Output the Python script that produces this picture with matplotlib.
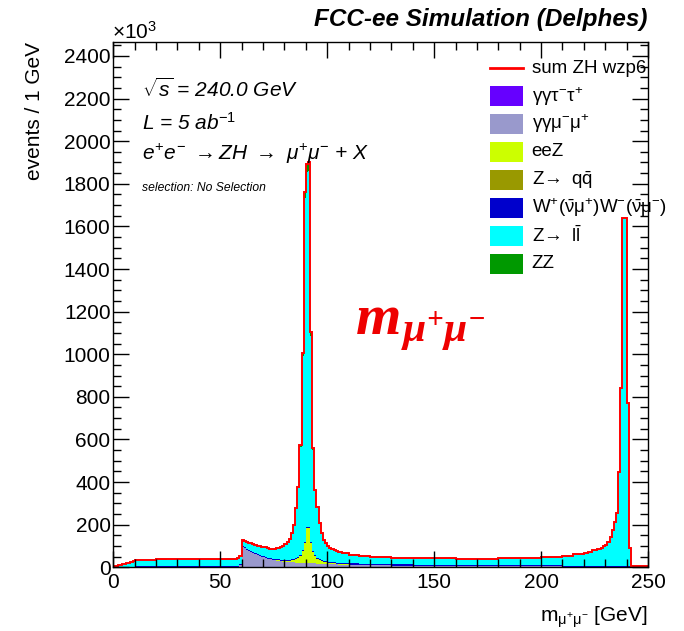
import matplotlib
matplotlib.use("Agg")
import matplotlib.pyplot as plt
from matplotlib.patches import Rectangle
from matplotlib.lines import Line2D
from matplotlib.ticker import MultipleLocator

plt.rcParams['font.family'] = ['Liberation Sans', 'DejaVu Sans']
plt.rcParams['mathtext.fontset'] = 'custom'
plt.rcParams['mathtext.rm'] = 'Liberation Sans'
plt.rcParams['mathtext.it'] = 'Liberation Sans:italic'
plt.rcParams['mathtext.bf'] = 'Liberation Serif:bold:italic'

# ---------------- data (events per 1 GeV, in units of 10^3) ----------------
edges = [0, 1, 2, 4, 6, 8, 9, 10, 15, 20, 25, 30, 35, 40, 45, 50, 55, 57, 58, 59,
         60, 61, 62, 63, 64, 65, 66, 67, 68, 69, 70, 71, 72, 73, 74, 75, 76, 77, 78, 79,
         80, 81, 82, 83, 84, 85, 86, 87, 88, 89, 90, 91, 92, 93, 94, 95, 96, 97, 98, 99,
         100, 101, 102, 103, 104, 105, 107, 110, 115, 120, 130, 140, 150, 160, 170, 180,
         190, 200, 205, 210, 215, 220, 222, 224, 226, 228, 229, 230, 231, 232, 233, 234,
         235, 236, 237, 238, 239, 240, 241, 242, 243, 244, 245, 250]

# gamma gamma -> tau tau (negligible at this scale)
gg_tautau = [0] * (len(edges) - 1)

gg_mumu = [0, 0, 0, 0, 0, 0, 0, 0, 0, 0, 0, 0, 0, 0, 0, 0, 0, 0, 3, 12,
           95, 89, 83, 77, 72, 67, 62, 58, 54, 50,
           46, 43, 40, 37, 35, 33, 31, 30, 28, 27,
           26, 25, 24, 23, 23, 22, 22, 21, 21, 20,
           20, 19, 19, 18, 18, 17, 17, 16, 16, 16,
           15, 15, 14, 14, 14,
           13, 12, 11, 10,
           9, 8, 7, 6, 6, 5, 5, 4,
           4, 4, 3, 3,
           3, 3, 3, 3,
           3, 3,
           2, 2, 2, 2, 2, 2, 2, 2, 2, 2, 2, 2, 1, 1, 1,
           1]

eeZ = [0, 0, 0, 0, 0, 0, 0, 0, 0, 0, 0, 0, 0, 0, 0, 0, 0, 0, 0, 0,
       0, 0, 0, 0, 0, 0, 0, 0, 0, 0,
       0, 0, 0, 0, 0, 0, 1, 2, 3, 4,
       5, 6, 7, 9, 11, 15, 21, 33, 55, 95,
       165, 165, 95, 55, 33, 23, 16, 12, 9, 7,
       6, 5, 4, 4, 3,
       3, 2, 1, 1,
       0, 0, 0, 0, 0, 0, 0, 0,
       0, 0, 0, 0,
       0, 0, 0, 0,
       0, 0,
       0, 0, 0, 0, 0, 0, 0, 0, 0, 0, 0, 0, 0, 0, 0,
       0]

# Z -> q qbar (negligible at this scale)
z_qq = [0] * (len(edges) - 1)

ww = [1, 2, 3, 3, 3, 3, 3, 4, 4, 4, 4, 4, 4, 4, 4, 4, 4, 4, 4, 4,
      5, 5, 5, 5, 5, 5, 5, 5, 5, 5,
      5, 5, 5, 5, 5, 5, 5, 5, 5, 5,
      5, 5, 5, 5, 5, 5, 5, 5, 5, 5,
      5, 5, 5, 5, 5, 5, 5, 5, 5, 5,
      5, 5, 5, 5, 5,
      6, 6, 6, 6,
      6, 6, 6, 6, 6, 6, 6, 6,
      5, 5, 5, 5,
      4, 4, 4, 4,
      4, 4,
      3, 3, 3, 3, 3, 3, 3, 3, 3, 3, 3, 3, 1, 1, 1,
      1]

z_ll = [2, 6, 10, 13, 15, 21, 26, 28, 30, 32, 33, 34, 34, 33, 32, 32, 32, 33, 34, 38,
        27, 29, 31, 33, 34, 35, 36, 37, 39, 41,
        43, 44, 44, 45, 47, 49, 51, 53, 57, 61,
        71, 81, 97, 121, 158, 231, 324, 506, 909, 1613,
        1665, 1671, 965, 471, 301, 236, 166, 125, 97, 83,
        73, 66, 61, 56, 52,
        47, 44, 40, 35,
        32, 30, 29, 29, 28, 29, 30, 32,
        36, 40, 46, 53,
        60, 65, 71, 78,
        84, 90,
        99, 114, 138, 169, 208, 247, 443, 834, 1634, 1634, 767, 83, 6, 4, 4,
        3]

zz = [0, 0, 0, 0, 0, 0, 0, 1, 1, 1, 1, 1, 1, 1, 1, 1, 1, 1, 1, 1,
      1, 1, 1, 1, 1, 1, 1, 1, 1, 1,
      1, 1, 1, 1, 1, 1, 1, 1, 1, 1,
      1, 1, 2, 2, 3, 4, 6, 9, 15, 30,
      40, 40, 22, 10, 6, 4, 3, 2, 1, 1,
      1, 1, 1, 1, 1,
      1, 1, 1, 1,
      1, 1, 1, 1, 1, 1, 1, 1,
      1, 1, 1, 1,
      1, 1, 1, 1,
      1, 1,
      1, 1, 1, 1, 1, 1, 1, 1, 1, 1, 1, 1, 0, 0, 0,
      0]

labels = [r'$\mathrm{\gamma\gamma\tau^{-}\tau^{+}}$',
          r'$\mathrm{\gamma\gamma\mu^{-}\mu^{+}}$',
          'eeZ',
          r'$\mathrm{Z\!\rightarrow\ q\bar{q}}$',
          r'$\mathrm{W^{+}(\bar{\nu}\mu^{+})W^{-}(\bar{\nu}\mu^{-})}$',
          r'$\mathrm{Z\!\rightarrow\ l\bar{l}}$',
          'ZZ']
series = [gg_tautau, gg_mumu, eeZ, z_qq, ww, z_ll, zz]
colors = ['#6600ff', '#9999cc', '#ccff00', '#999900', '#0000cc', '#00ffff', '#009900']

for s in series:
    assert len(s) == len(edges) - 1

W, H = 684, 631
fig = plt.figure(figsize=(W / 100, H / 100), dpi=100)
L, R, T, B = 113.3, 648.0, 42.3, 567.3
ax = fig.add_axes([L / W, 1 - B / H, (R - L) / W, (B - T) / H])

# stacked histogram
bottom = [0.0] * (len(edges) - 1)
for s, c in zip(series, colors):
    top = [b + v for b, v in zip(bottom, s)]
    ax.stairs(top, edges, baseline=bottom, fill=True, color=c, lw=0)
    bottom = top
ax.stairs(bottom, edges, baseline=0, color='#ff0000', lw=1.4)

ax.set_xlim(0, 250)
ax.set_ylim(0, 2464)
ax.xaxis.set_major_locator(MultipleLocator(50))
ax.xaxis.set_minor_locator(MultipleLocator(10))
ax.yaxis.set_major_locator(MultipleLocator(200))
ax.yaxis.set_minor_locator(MultipleLocator(50))
ax.tick_params(which='both', direction='in', top=True, right=True, width=1.0, colors='black')
ax.tick_params(which='major', length=11.5)
ax.tick_params(which='minor', length=5.5)
ax.tick_params(axis='y', which='major', labelsize=15, pad=2)
ax.tick_params(axis='x', which='major', labelsize=15, pad=4)
for sp in ax.spines.values():
    sp.set_linewidth(1.0)

def fx(x):
    return x / W

def fy(y):
    return 1 - y / H

# axis titles
fig.text(fx(R), fy(622), r'$\mathrm{m_{\mu^{+}\mu^{-}}}$ [GeV]', ha='right', va='baseline', fontsize=15)
fig.text(fx(34), fy(T), 'events / 1 GeV', rotation=90, ha='center', va='top', fontsize=15)
fig.text(fx(L - 1), fy(39), r'$\mathrm{\times10^{3}}$', ha='left', va='baseline', fontsize=15)

# title
fig.text(fx(R), fy(26), 'FCC-ee Simulation (Delphes)', ha='right', va='baseline',
         fontsize=17.5, fontweight='bold', fontstyle='italic')

# annotations
fig.text(fx(141.7), fy(97.3), r'$\sqrt{s}$ = 240.0 GeV', fontsize=15, fontstyle='italic', va='baseline')
fig.text(fx(141.7), fy(130), r'L = 5 ab$^{-1}$', fontsize=15, fontstyle='italic', va='baseline')
fig.text(fx(141.7), fy(160), r'$e^{+}e^{-}\ \rightarrow ZH\ \rightarrow\ \mu^{+}\mu^{-}$ + X', fontsize=15,
         fontstyle='italic', va='baseline')
fig.text(fx(141.7), fy(191), 'selection: No Selection', fontsize=8.7, fontstyle='italic', va='baseline')

# big red variable label: m with a large subscript (ROOT-like proportions)
red = '#ee0000'
t_m = fig.text(fx(355), fy(334), r'$\mathbf{m}$', fontsize=42, color=red, va='baseline')
renderer = fig.canvas.get_renderer()
bb = t_m.get_window_extent(renderer)
fig.text(bb.x1 / W + 1 / W, fy(342), r'$\mathbf{\mu^{+}\mu^{-}}$', fontsize=30, color=red, va='baseline')

# legend
row0, dy = 68.3, 27.9
fig.add_artist(Line2D([fx(490), fx(523)], [fy(row0), fy(row0)], color='#ff0000', lw=2))
fig.text(fx(531.7), fy(row0), 'sum ZH wzp6', fontsize=13.5, va='center')
for i, (lab, c) in enumerate(zip(labels, colors)):
    y = row0 + dy * (i + 1)
    fig.add_artist(Rectangle((fx(490), fy(y + 10)), fx(523) - fx(490), (20) / H,
                             facecolor=c, edgecolor='none'))
    fig.text(fx(531.7), fy(y), lab, fontsize=13.5, va='center')

fig.savefig('out.png', dpi=100)
